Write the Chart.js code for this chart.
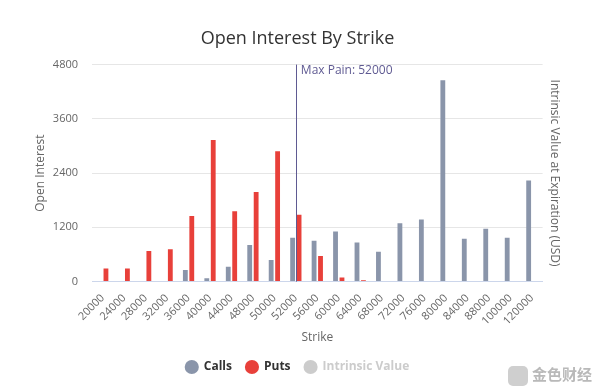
<!DOCTYPE html>
<html>
<head>
<meta charset="utf-8">
<script src="https://cdn.jsdelivr.net/npm/chart.js@4.4.1/dist/chart.umd.min.js"></script>
<style>
	html, body { margin:0; padding:0; background:#fff; }
	#wrap { position:relative; width:600px; height:392px; }
	#mark { position:absolute; right:8px; bottom:6px; font-family:"Noto Sans CJK SC", sans-serif; font-size:15px; color:#b9b9b9; font-weight:bold; }
	#mark span { display:inline-block; width:20px; height:20px; border-radius:5px; background:#cfcfcf; vertical-align:middle; margin-right:4px; }
</style>
</head>
<body>
<div id="wrap">
	<canvas id="c" width="600" height="392"></canvas>
	<div id="mark"><span></span>金色财经</div>
</div>
<script>
// strikes (category axis)
var strikes = ['20000','24000','28000','32000','36000','40000','44000','48000','50000','52000','56000','60000','64000','68000','72000','76000','80000','84000','88000','100000','120000'];
// open interest
var calls = [0,0,0,0,257,73,330,807,477,968,902,1108,866,660,1291,1371,4452,946,1166,968,2237];
var puts  = [290,290,675,718,1452,3130,1555,1980,2882,1481,565,88,30,0,0,0,0,0,0,0,0];
var intrinsicValue = []; // series is switched off in the legend
var yTicks = [0,1200,2400,3600,4800];
var maxPain = '52000';

var FONT = '"Open Sans", "DejaVu Sans", sans-serif';

// vertical max pain marker, placed with the x scale
var maxPainLine = {
	id: 'maxPainLine',
	afterDatasetsDraw: function( chart ){
		var x  = chart.scales.x.getPixelForValue( strikes.indexOf( maxPain ) ),
			ca = chart.chartArea,
			c  = chart.ctx;
		c.save();
		c.strokeStyle = '#5f5a92';
		c.lineWidth = 1;
		c.beginPath();
		c.moveTo( Math.round(x)+0.5, ca.top );
		c.lineTo( Math.round(x)+0.5, ca.bottom );
		c.stroke();
		c.fillStyle = '#5f5a92';
		c.font = '12px '+FONT;
		c.textBaseline = 'middle';
		c.fillText( 'Max Pain: '+maxPain, x+5, ca.top+6 );
		c.restore();
	}
};

new Chart( document.getElementById('c').getContext('2d'), {
	type: 'bar',
	data: {
		labels: strikes,
		datasets: [
			{ label:'Calls', data:calls, backgroundColor:'#8a95aa', yAxisID:'y', categoryPercentage:0.6, barPercentage:0.75 },
			{ label:'Puts', data:puts, backgroundColor:'#e8403a', yAxisID:'y', categoryPercentage:0.6, barPercentage:0.75 },
			{ label:'Intrinsic Value', type:'line', data:intrinsicValue, yAxisID:'y1', hidden:true, borderColor:'#cccccc', backgroundColor:'#cccccc' }
		]
	},
	plugins: [ maxPainLine ],
	options: {
		responsive: false,
		animation: false,
		layout: { padding: { left:33, right:38, top:12, bottom:9 } },
		plugins: {
			title: {
				display: true,
				text: 'Open Interest By Strike',
				color: '#333333',
				font: { family:FONT, size:18, weight:'normal' },
				padding: { top:16, bottom:15 }
			},
			legend: {
				position: 'bottom',
				onClick: function(){},
				labels: {
					usePointStyle: true,
					pointStyle: 'circle',
					boxHeight: 10,
					padding: 14,
					color: '#333333',
					font: { family:FONT, size:12, weight:'bold' },
					generateLabels: function( chart ){
						return chart.data.datasets.map( function( ds, i ){
							var off = ds.hidden;
							return {
								text: ds.label,
								fillStyle: off ? '#cccccc' : ds.backgroundColor,
								strokeStyle: off ? '#cccccc' : ds.backgroundColor,
								lineWidth: 0,
								pointStyle: 'circle',
								fontColor: off ? '#cccccc' : '#333333',
								hidden: false,
								datasetIndex: i
							};
						} );
					}
				}
			},
			tooltip: { enabled:false }
		},
		scales: {
			x: {
				grid: { display:false },
				border: { color:'#ccd6eb' },
				ticks: { color:'#666666', font:{ family:FONT, size:11 }, minRotation:45, maxRotation:45, autoSkip:false, padding:2 },
				title: { display:true, text:'Strike', color:'#666666', font:{ family:FONT, size:12 }, padding:{ top:1, bottom:2 } },
				afterFit: function( s ){ s.paddingLeft = 0; s.paddingRight = 0; }
			},
			y: {
				position: 'left',
				min: 0, max: 4800,
				afterBuildTicks: function( s ){ s.ticks = yTicks.map( function(v){ return { value:v }; } ); },
				afterFit: function( s ){ s.width = 59; },
				grid: { color:'#e6e6e6', drawTicks:false },
				border: { display:false },
				ticks: { color:'#666666', font:{ family:FONT, size:11 }, padding:14, callback: function(v){ return String(v); } },
				title: { display:true, text:'Open Interest', color:'#666666', font:{ family:FONT, size:12 }, padding:{ top:0, bottom:4 } }
			},
			y1: {
				position: 'right',
				display: true,
				min: 0, max: 1,
				grid: { display:false, drawTicks:false },
				border: { display:false },
				ticks: { display:false },
				title: { display:true, text:'Intrinsic Value at Expiration (USD)', color:'#666666', font:{ family:FONT, size:12 }, padding:{ top:0, bottom:5 } }
			}
		}
	}
} );
</script>
</body>
</html>
